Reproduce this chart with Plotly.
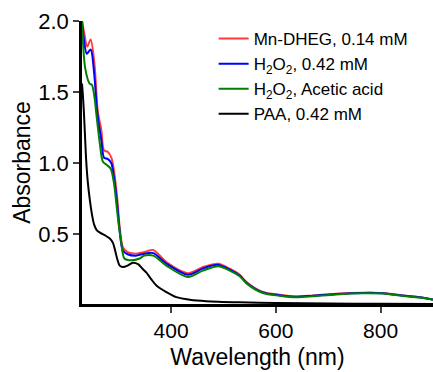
import plotly.graph_objects as go

# Wavelength (nm) / absorbance
wl_red = [230, 234, 240, 246.5, 254, 260, 267, 272, 279, 286, 291, 297, 302, 308, 317, 333, 349, 366, 391, 432, 461, 490, 512, 531, 544, 575, 607, 639, 671, 715, 766, 804, 842, 874, 900]
abs_red = [2.0, 1.92, 1.82, 1.87, 1.69, 1.37, 1.23, 1.09, 1.08, 1.04, 0.95, 0.76, 0.55, 0.41, 0.375, 0.364, 0.375, 0.39, 0.305, 0.227, 0.27, 0.293, 0.258, 0.215, 0.164, 0.094, 0.075, 0.063, 0.07, 0.082, 0.089, 0.087, 0.07, 0.058, 0.042]

wl_blue = [230, 234, 239, 246.5, 253, 258, 261, 267, 272, 279, 286, 291, 297, 302, 308, 317, 333, 349, 366, 391, 432, 461, 490, 512, 531, 544, 575, 607, 639, 671, 715, 766, 804, 842, 874, 900]
abs_blue = [2.0, 1.86, 1.77, 1.80, 1.64, 1.40, 1.30, 1.16, 1.04, 1.03, 1.0, 0.90, 0.72, 0.52, 0.387, 0.36, 0.35, 0.364, 0.368, 0.295, 0.216, 0.26, 0.285, 0.252, 0.21, 0.16, 0.091, 0.072, 0.061, 0.068, 0.08, 0.088, 0.086, 0.069, 0.057, 0.041]

wl_green = [230, 236, 244.5, 249, 254, 257, 264, 270, 278, 285, 291, 296, 299, 305, 311, 324, 340, 349, 366, 391, 432, 461, 490, 512, 531, 544, 575, 607, 639, 671, 715, 766, 804, 842, 874, 900]
abs_green = [2.0, 1.67, 1.56, 1.55, 1.46, 1.36, 1.14, 1.01, 0.986, 0.96, 0.86, 0.70, 0.60, 0.44, 0.33, 0.317, 0.33, 0.35, 0.35, 0.28, 0.20, 0.245, 0.275, 0.245, 0.205, 0.155, 0.087, 0.068, 0.057, 0.064, 0.077, 0.085, 0.083, 0.066, 0.055, 0.04]

wl_black = [230, 232, 234, 236, 238, 241, 245, 249, 253, 258, 265, 275, 283, 289, 293, 297, 302, 308, 317, 327, 337, 345, 353, 362, 372, 391, 410, 436, 467, 530, 600, 700, 800, 900]
abs_black = [1.56, 1.46, 1.33, 1.17, 1.02, 0.87, 0.74, 0.64, 0.57, 0.53, 0.51, 0.49, 0.47, 0.44, 0.39, 0.33, 0.28, 0.27, 0.28, 0.30, 0.29, 0.26, 0.23, 0.185, 0.14, 0.094, 0.058, 0.04, 0.03, 0.022, 0.017, 0.013, 0.011, 0.01]

series_names = ["Mn-DHEG, 0.14 mM", "H<sub>2</sub>O<sub>2</sub>, 0.42 mM",
                "H<sub>2</sub>O<sub>2</sub>, Acetic acid", "PAA, 0.42 mM"]
series_colors = ["#ff3b3b", "#0000ff", "#008000", "#000000"]

x_ticks = [400, 600, 800]
y_ticks = [0.5, 1.0, 1.5, 2.0]

fig = go.Figure()
for wl, ab, name, col in zip([wl_red, wl_blue, wl_green, wl_black],
                             [abs_red, abs_blue, abs_green, abs_black],
                             series_names, series_colors):
    fig.add_trace(go.Scatter(x=wl, y=ab, mode="lines", name=name,
                             line=dict(color=col, width=2, shape="spline", smoothing=0.8)))

font = "Liberation Sans, Arial, sans-serif"
fig.update_layout(
    width=433, height=372,
    margin=dict(l=82, r=0, t=21, b=68),
    plot_bgcolor="white", paper_bgcolor="white",
    font=dict(family=font, color="black"),
    showlegend=True,
    legend=dict(x=0.375, y=1.0, xanchor="left", yanchor="top",
                font=dict(size=17, family=font), bgcolor="rgba(0,0,0,0)",
                tracegroupgap=0),
    xaxis=dict(range=[230, 900], tickvals=x_ticks, ticks="outside", ticklen=6, tickwidth=2,
               showline=True, linecolor="black", linewidth=2.5, showgrid=False, zeroline=False,
               tickfont=dict(size=21), title=dict(text="Wavelength (nm)", font=dict(size=23), standoff=8)),
    yaxis=dict(range=[0.01, 2.0], tickvals=y_ticks, tickformat=".1f", ticks="outside", ticklen=6, tickwidth=2,
               showline=True, linecolor="black", linewidth=2.5, showgrid=False, zeroline=False,
               tickfont=dict(size=22), title=dict(text="Absorbance", font=dict(size=23), standoff=2)),
)
fig.write_html("out.html")
